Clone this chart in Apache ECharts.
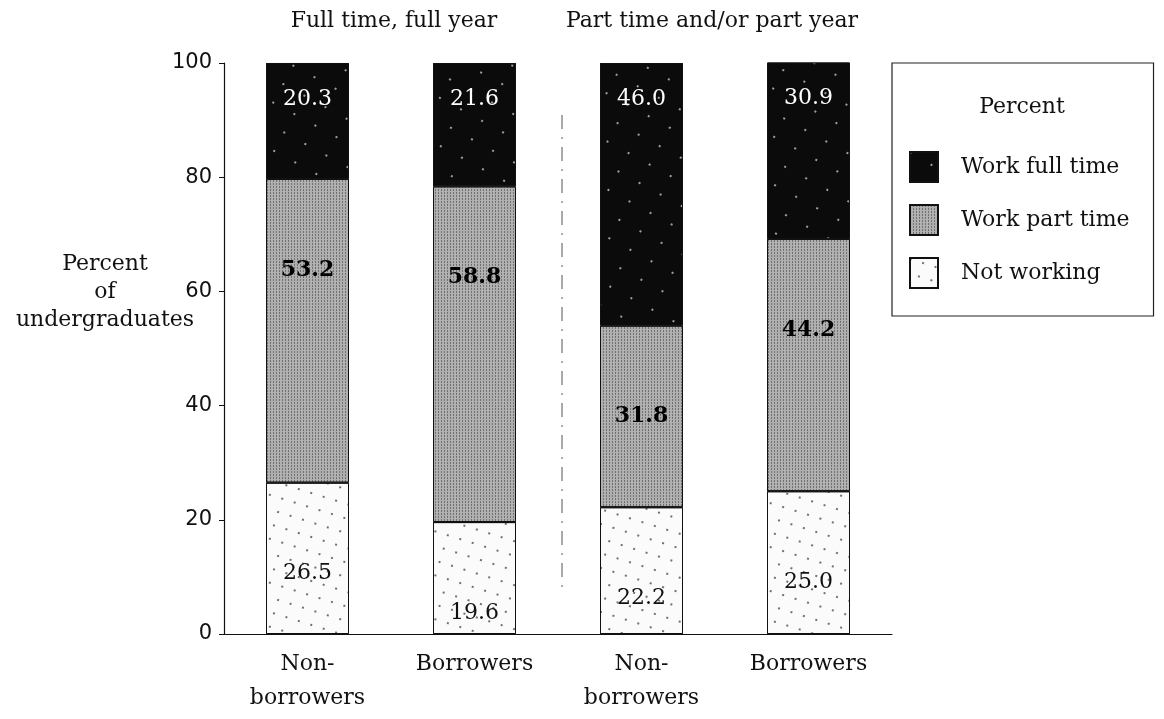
<!DOCTYPE html>
<html>
<head>
    <meta charset="utf-8">
    <title>Work status of undergraduates</title>
    <script src="https://cdn.jsdelivr.net/npm/echarts@6/dist/echarts.min.js"></script>
    <style>
        html, body { margin: 0; padding: 0; background: #fff; }
        #main { width: 1164px; height: 719px; }
    </style>
</head>
<body>
    <div id="main"></div>
    <script type="text/javascript">

        // chart data
        var categories = ['Non-\nborrowers', 'Borrowers', 'Non-\nborrowers', 'Borrowers'];
        var groupLabels = ['Full time, full year', 'Part time and/or part year'];
        var seriesNames = ['Work full time', 'Work part time', 'Not working'];
        var notWorking = [26.5, 19.6, 22.2, 25.0];
        var workPartTime = [53.2, 58.8, 31.8, 44.2];
        var workFullTime = [20.3, 21.6, 46.0, 30.9];
        var yTicks = [0, 20, 40, 60, 80, 100];

        var serif = 'DejaVu Serif';
        var sans = 'DejaVu Sans';

        var myChart = echarts.init(document.getElementById('main'), null, { renderer: 'canvas' });

        function labelOf(color, dist, bold) {
            return {
                show: true,
                position: 'insideTop',
                distance: dist,
                color: color,
                fontFamily: serif,
                fontSize: 22,
                fontWeight: bold ? 'bold' : 'normal',
                formatter: function (p) { return p.value.toFixed(1); }
            };
        }

        var option = {
            animation: false,
            backgroundColor: '#fff',
            grid: {
                left: 224,
                right: 272,
                top: 63,
                bottom: 85
            },
            legend: {
                data: seriesNames,
                orient: 'vertical',
                left: 892,
                top: 63,
                itemWidth: 28,
                itemHeight: 30,
                itemGap: 21,
                padding: [88, 24, 27, 17],
                borderColor: '#222',
                borderWidth: 1.2,
                borderRadius: 0,
                selectedMode: false,
                icon: 'rect',
                textStyle: {
                    fontFamily: serif,
                    fontSize: 22,
                    color: '#111',
                    padding: [0, 0, 0, 18]
                }
            },
            xAxis: {
                type: 'category',
                data: categories,
                axisLine: { lineStyle: { color: '#111', width: 1.2 } },
                axisTick: { alignWithLabel: true, length: 6, lineStyle: { color: '#111' } },
                axisLabel: {
                    margin: 13,
                    fontFamily: serif,
                    fontSize: 22,
                    lineHeight: 34,
                    color: '#111'
                }
            },
            yAxis: {
                type: 'value',
                min: yTicks[0],
                max: yTicks[yTicks.length - 1],
                interval: 20,
                axisLine: { show: true, lineStyle: { color: '#111', width: 1.2 } },
                axisTick: { show: true, length: 5, lineStyle: { color: '#111' } },
                splitLine: { show: false },
                axisLabel: {
                    margin: 12,
                    fontFamily: sans,
                    fontSize: 21,
                    color: '#111'
                }
            },
            series: [{
                name: 'Not working',
                type: 'bar',
                stack: 'total',
                barWidth: 83,
                data: notWorking,
                itemStyle: {
                    color: '#fbfbfb',
                    borderColor: '#111',
                    borderWidth: 1,
                    decal: {
                        symbol: 'rect',
                        symbolSize: 1,
                        color: 'rgba(0,0,0,0.55)',
                        dashArrayX: [1.5, 11],
                        dashArrayY: [1.5, 12],
                        rotation: 0.3
                    }
                },
                label: labelOf('#111', 80, false)
            }, {
                name: 'Work part time',
                type: 'bar',
                stack: 'total',
                barWidth: 83,
                data: workPartTime,
                itemStyle: {
                    color: '#b0b0b0',
                    borderColor: '#111',
                    borderWidth: 1,
                    decal: {
                        symbol: 'rect',
                        symbolSize: 1,
                        color: 'rgba(50,50,50,0.5)',
                        dashArrayX: [1, 2],
                        dashArrayY: [2, 1],
                        rotation: 0
                    }
                },
                label: labelOf('#000', 80, true)
            }, {
                name: 'Work full time',
                type: 'bar',
                stack: 'total',
                barWidth: 83,
                data: workFullTime,
                itemStyle: {
                    color: '#0b0b0b',
                    borderColor: '#111',
                    borderWidth: 1,
                    decal: {
                        symbol: 'rect',
                        symbolSize: 1,
                        color: 'rgba(255,255,255,0.6)',
                        dashArrayX: [1.5, 22],
                        dashArrayY: [1.5, 19],
                        rotation: 0.5
                    }
                },
                label: labelOf('#fff', 25, false)
            }]
        };

        myChart.setOption(option);

        // group headers, divider, legend title and y axis name
        var gridRect = myChart.getModel().getComponent('grid').coordinateSystem.getRect();
        var band = gridRect.width / categories.length;
        var midX = gridRect.x + band * 2;

        var textStyle = function (txt, size) {
            return {
                text: txt,
                fontFamily: serif,
                fontSize: size,
                fill: '#111',
                align: 'center',
                verticalAlign: 'middle',
                lineHeight: 28
            };
        };

        myChart.setOption({
            graphic: [
                { type: 'text', x: gridRect.x + band + 3, y: 21, style: textStyle(groupLabels[0], 22) },
                { type: 'text', x: gridRect.x + band * 3 - 13, y: 21, style: textStyle(groupLabels[1], 22) },
                { type: 'text', x: 1022, y: 107, style: textStyle('Percent', 22) },
                { type: 'text', x: 105, y: 292, style: textStyle('Percent\nof\nundergraduates', 22) },
                {
                    type: 'line',
                    shape: { x1: midX + 4, y1: gridRect.y + 52, x2: midX + 4, y2: gridRect.y + gridRect.height - 40 },
                    style: { stroke: '#555', lineWidth: 1, lineDash: [14, 8, 2, 8] }
                }
            ]
        });

    </script>
</body>
</html>
